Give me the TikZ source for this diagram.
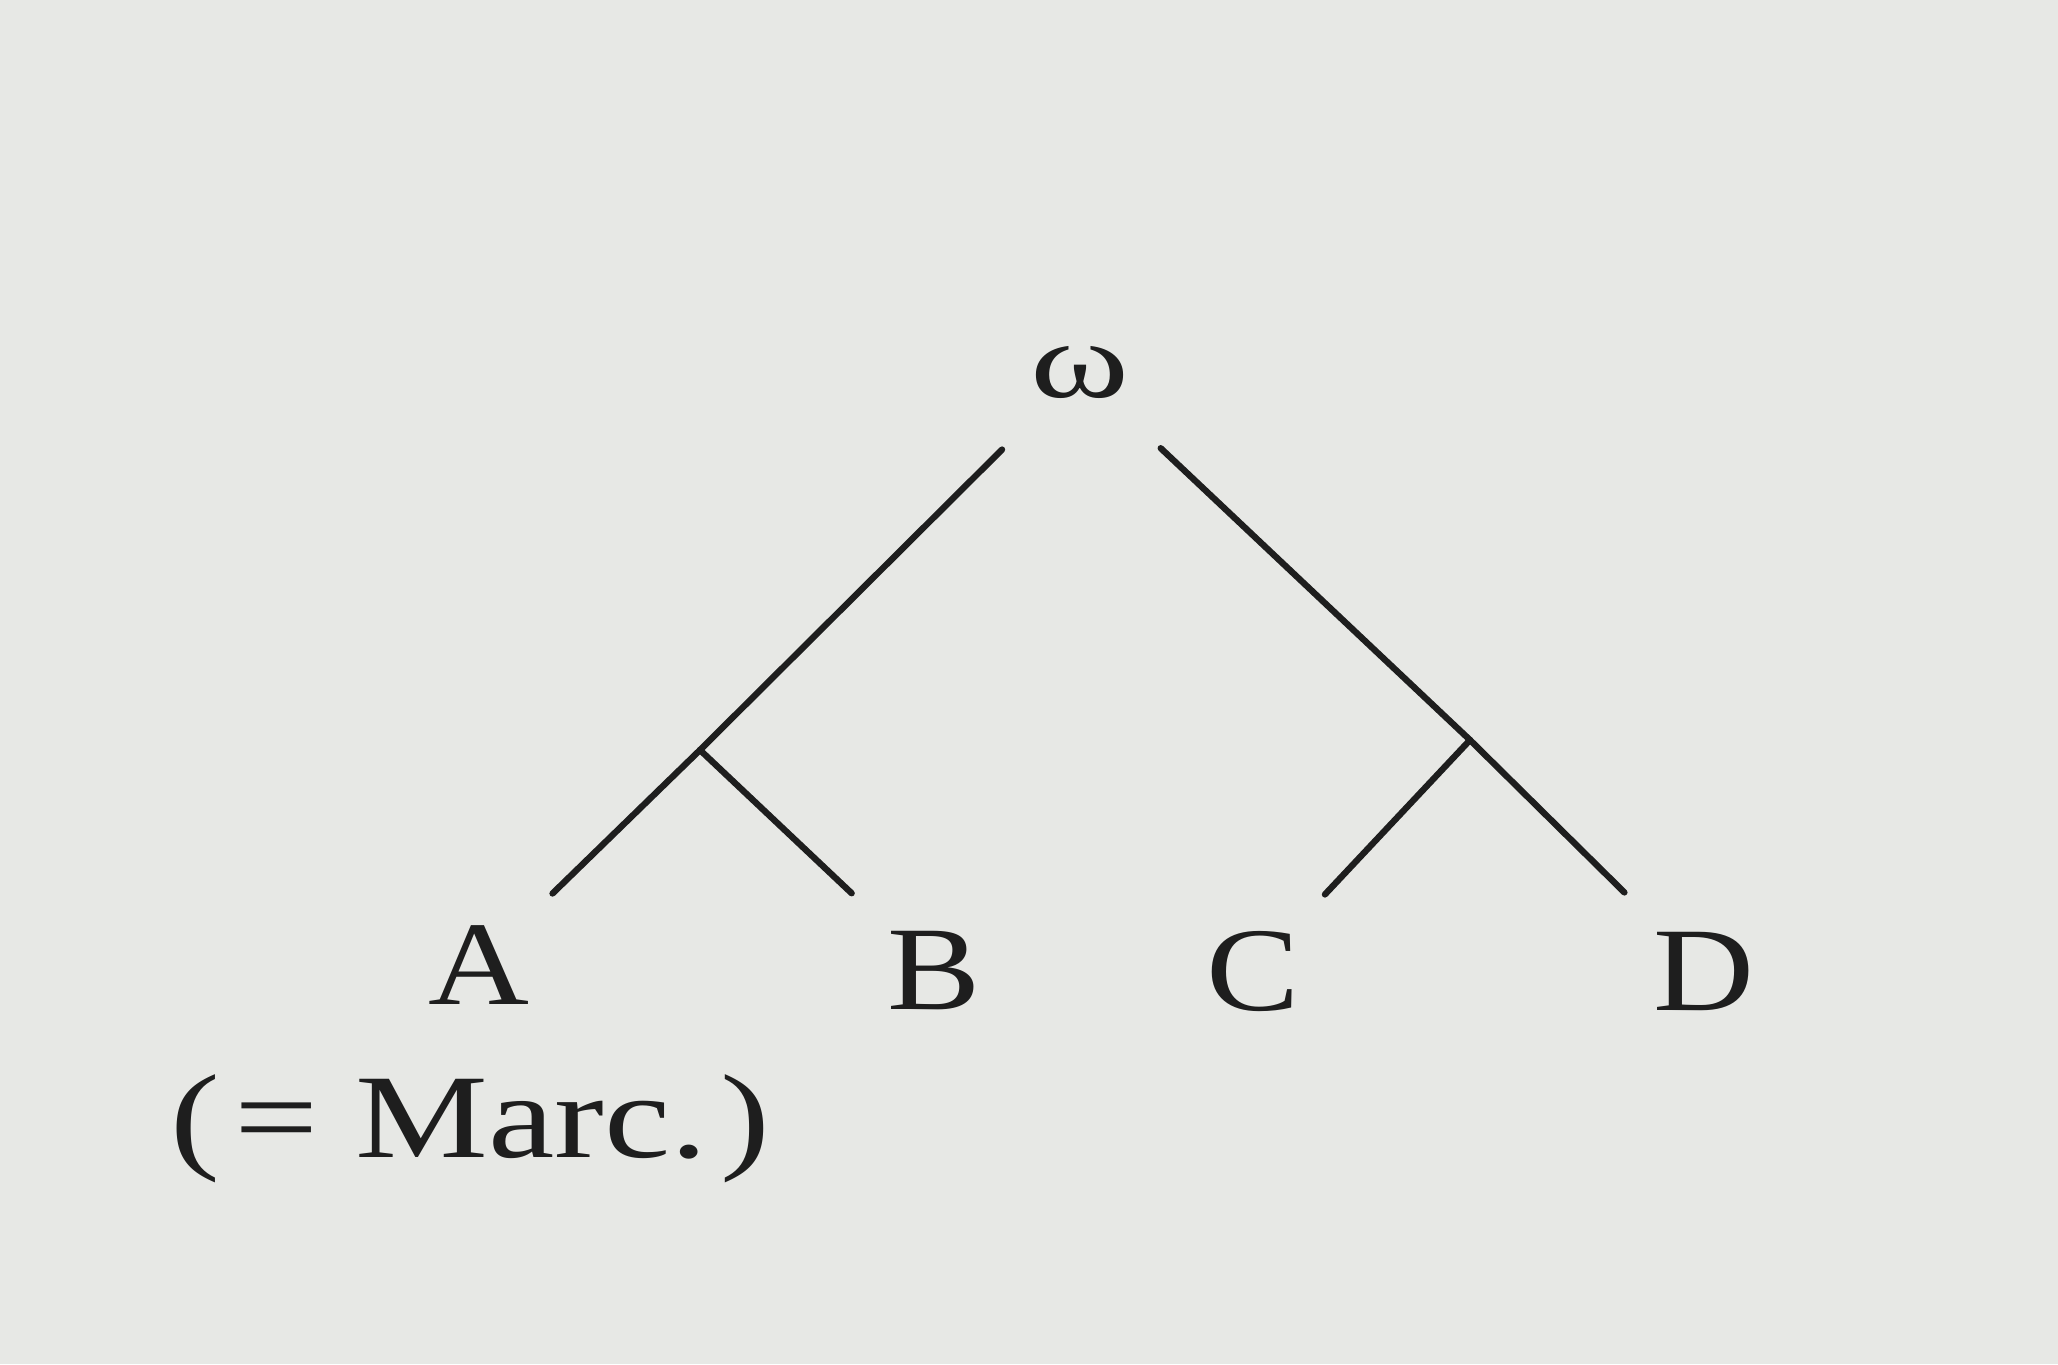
\documentclass[tikz,border=0pt]{standalone}
\usepackage{fontspec}
\setmainfont{Liberation Serif}[FakeStretch=1.17]
\newfontfamily\marcfont{Liberation Serif}[FakeStretch=1.25]
\newfontfamily\omegafont{Liberation Serif}[FakeStretch=1.38]
\usetikzlibrary{positioning}
\definecolor{paper}{HTML}{E7E8E5}
\definecolor{ink}{HTML}{1E1E1E}

\begin{document}
\begin{tikzpicture}[
    every node/.style={font=\fontsize{34}{40}\selectfont, text=ink, inner sep=0pt},
    sigl/.style={anchor=center},
    stem/.style={draw=ink, line width=1.8pt, line cap=round, shorten >=0.55cm},
    stemtop/.style={draw=ink, line width=1.8pt, line cap=round, shorten <=0.72cm}
]
    \fill[paper] (0,0) rectangle (20.58,-13.64);
    \useasboundingbox (0,0) rectangle (20.58,-13.64);
    % archetype and the two lost intermediates
    \node[sigl, font=\omegafont\fontsize{31}{36}\selectfont] (omega) at (10.80,-3.72) {ω};
    \coordinate (hypAB) at (7.00,-7.50);
    \coordinate (hypCD) at (14.70,-7.40);
    % the four witnesses
    \node[sigl] (A) at (4.79,-9.65) {A};
    \node[sigl] (B) at (9.34,-9.71) {B};
    \node[sigl] (C) at (12.53,-9.71) {C};
    \node[sigl] (D) at (17.04,-9.71) {D};
    \node[sigl, font=\marcfont\fontsize{34}{40}\selectfont] (marc) at (4.70,-11.29)
        {(\kern0.12em=\ Marc.\kern0.1em)};
    \draw[stemtop] (omega) -- (hypAB);
    \draw[stemtop] (omega) -- (hypCD);
    \draw[stem, shorten >=0.45cm] (hypAB) -- (A);
    \draw[stem] (hypAB) -- (B);
    \draw[stem, shorten >=0.49cm] (hypCD) -- (C);
    \draw[stem] (hypCD) -- (D);
\end{tikzpicture}
\end{document}
